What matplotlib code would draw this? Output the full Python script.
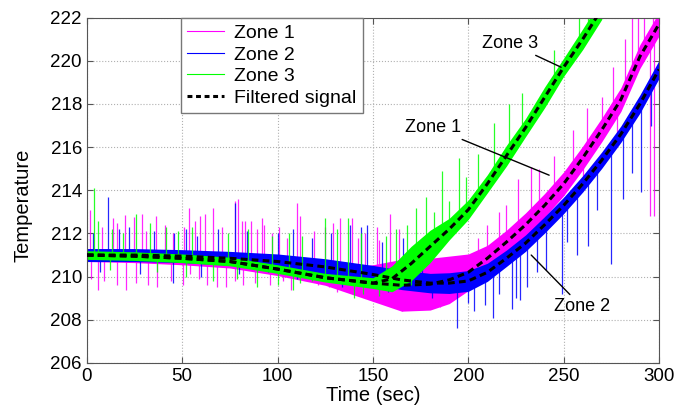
import matplotlib.pyplot as plt
import numpy as np

plt.rcParams['font.family'] = ['Liberation Sans', 'DejaVu Sans']

# filtered temperature per zone (time in sec, value)
t_12 = [0, 25, 50, 75, 100, 125, 150, 165, 180, 190, 200, 210, 220, 230, 240, 250, 260, 270, 280, 290, 300]
zone1_filt = [211.0, 210.95, 210.85, 210.7, 210.35, 209.95, 209.7, 209.6, 209.65, 209.85, 210.2,
              210.85, 211.6, 212.4, 213.3, 214.3, 215.5, 216.8, 218.2, 220.2, 221.7]
zone2_filt = [211.0, 211.0, 210.95, 210.85, 210.7, 210.45, 210.1, 209.85, 209.7, 209.7, 209.8,
              210.2, 210.85, 211.55, 212.4, 213.3, 214.3, 215.4, 216.6, 218.0, 219.6]
t_3 = [0, 25, 50, 75, 100, 125, 150, 160, 170, 180, 190, 200, 210, 220, 230, 240, 250, 260, 270]
zone3_filt = [211.0, 210.95, 210.85, 210.7, 210.35, 209.95, 209.7, 209.9, 210.6, 211.4, 212.2,
              213.1, 214.3, 215.6, 216.9, 218.3, 219.7, 221.0, 222.4]

# half width of the dense noise band around each filtered signal
zone1_band = [0.3, 0.3, 0.3, 0.3, 0.3, 0.35, 0.85, 1.2, 1.2, 1.1, 0.85,
              0.6, 0.55, 0.55, 0.55, 0.55, 0.55, 0.55, 0.55, 0.55, 0.55]
zone2_band = [0.3, 0.3, 0.3, 0.32, 0.35, 0.38, 0.42, 0.45, 0.45, 0.48, 0.48,
              0.42, 0.38, 0.38, 0.38, 0.38, 0.38, 0.38, 0.38, 0.42, 0.42]
zone3_band = [0.2, 0.2, 0.2, 0.2, 0.2, 0.2, 0.25, 0.6, 0.8, 0.75, 0.5,
              0.45, 0.42, 0.48, 0.42, 0.48, 0.42, 0.48, 0.48]

# sensor spikes (time, peak temperature)
zone1_spikes = [(1.6, 213.1), (8, 212.3), (13.6, 212.7), (16, 212.5), (20, 212.85), (24.5, 212.75),
                (28.7, 212.9), (31, 212.1), (36.5, 212.8), (41, 212.4), (45, 212.0), (50.8, 212.3),
                (53.4, 213.2), (56.8, 212.6), (59.5, 212.8), (62, 212.9), (66.4, 213.2), (71, 212.3),
                (77.5, 213.5), (79.5, 213.6), (81.6, 212.6), (83, 212.6), (86, 212.6), (89, 212.2),
                (92, 212.7), (93, 212.4), (97, 212.0), (101, 212.3), (105, 211.8), (110, 213.4),
                (112, 212.8), (119, 212.1), (125, 212.3), (129, 212.5), (133, 212.7), (139, 212.7),
                (142, 211.8), (146, 212.0), (152, 212.3), (153, 211.7), (159, 212.9), (163.5, 212.2),
                (180, 212.0), (205, 211.8), (210, 212.4), (216, 213.0), (220, 213.3), (226, 214.5),
                (233, 215.1), (237, 215.0), (245, 215.6), (255, 216.8), (262, 217.8), (270, 218.3),
                (276, 219.7), (282, 221.0), (286, 222.0), (289, 222.0), (292, 222.0), (297, 222.0),
                (2, 209.9), (5.8, 209.4), (9, 209.8), (16, 209.6), (20.5, 209.4), (26, 209.7),
                (32, 209.6), (37, 209.5), (44, 209.8), (50.6, 209.6), (54, 210.1), (59, 209.9),
                (63, 209.6), (68.5, 209.5), (73, 209.5), (77.5, 209.8), (82, 209.6), (88, 209.7),
                (96, 209.6), (103, 209.8), (107, 209.4), (115, 210.0), (121, 209.6), (127, 209.5),
                (131, 209.3), (137, 209.4), (141, 209.4), (147, 209.4), (150, 209.2), (156, 208.8),
                (165, 208.4), (171, 208.5), (185, 208.6), (190, 208.9), (240, 212.3), (260, 214.2),
                (278, 216.5), (295.5, 212.8), (297.5, 212.8)]
zone2_spikes = [(3, 212.0), (11, 213.7), (17, 212.2), (22, 212.3), (35, 212.1), (45.6, 212.0),
                (52, 212.2), (58, 211.9), (69, 212.2), (77.8, 213.4), (84, 212.1), (100, 212.0),
                (108, 212.2), (118, 211.8), (128, 212.0), (138, 212.4), (144, 212.3), (147, 212.4),
                (155, 211.6), (166, 211.8), (176, 211.6),
                (7, 210.2), (28, 210.1), (45, 209.7), (60, 210.0), (80, 210.1), (95, 210.2),
                (110, 209.9), (134, 209.5), (158, 209.3), (181, 209.0), (194, 207.6), (200, 208.8),
                (203, 208.4), (209, 208.7), (213, 208.1), (216, 209.2), (223, 208.5), (225, 209.0),
                (227, 208.9), (231, 209.5), (236, 210.2), (241, 210.3), (249, 209.2), (252, 211.6),
                (257, 211.0), (263, 211.4), (267.5, 213.1), (275, 210.6), (281, 213.6), (286, 214.8),
                (290.6, 213.9), (296, 217.0), (300, 218.8)]
zone3_spikes = [(4, 214.1), (6, 212.6), (13, 212.2), (19, 212.0), (26, 212.9), (33, 212.5),
                (41.5, 212.3), (48, 212.1), (55, 212.3), (74, 212.0), (84.6, 212.2), (97, 211.9),
                (106, 212.0), (113, 211.9), (125, 212.7), (131, 212.2), (136.7, 212.7), (144, 212.0),
                (157, 211.9), (162, 212.2), (168, 212.4), (172.8, 213.2), (178, 213.7), (182, 213.0),
                (186, 214.9), (190, 213.5), (195, 215.5), (199, 214.6), (205, 215.7), (213.6, 217.1),
                (221.5, 218.0), (228, 218.5), (245, 220.5), (258, 222.0), (263, 222.0),
                (12, 210.3), (37, 210.2), (52, 210.0), (66, 209.8), (79, 209.9), (89, 209.5),
                (100, 209.6), (108, 209.4), (112, 209.7), (118, 209.8), (140, 209.0), (145, 209.2),
                (153, 209.1), (170, 209.6)]

zones = [
    ('Zone 1', '#ff00ff', t_12, zone1_filt, zone1_band, zone1_spikes),
    ('Zone 2', '#0000ff', t_12, zone2_filt, zone2_band, zone2_spikes),
    ('Zone 3', '#00ff00', t_3, zone3_filt, zone3_band, zone3_spikes),
]

fig = plt.figure(figsize=(6.78, 4.09), dpi=100)
ax = fig.add_axes([0.128, 0.1125, 0.844, 0.8445])

for name, color, t, filt, band, spikes in zones:
    t = np.array(t)
    filt = np.array(filt)
    band = np.array(band)
    ax.fill_between(t, filt - band, filt + band, color=color, lw=0, zorder=2)
    st = np.array([s[0] for s in spikes])
    sv = np.array([s[1] for s in spikes])
    ax.vlines(st, np.interp(st, t, filt), sv, color=color, lw=0.9, alpha=0.85, zorder=2)
    ax.plot([], [], color=color, lw=0.8, label=name)

for name, color, t, filt, band, spikes in zones:
    ax.plot(t, filt, color='black', lw=2.2, dashes=(2.2, 1.4), zorder=3)
ax.plot([], [], color='black', lw=2.2, dashes=(1.6, 1.2), label='Filtered signal')

arrow = dict(arrowstyle='-', color='black', lw=1, shrinkA=1, shrinkB=0)
ax.annotate('Zone 3', xy=(248.7, 219.7), xytext=(222, 220.8), ha='center', va='center',
            fontsize=13, arrowprops=arrow, zorder=5)
ax.annotate('Zone 1', xy=(242.4, 214.7), xytext=(181.7, 216.9), ha='center', va='center',
            fontsize=13, arrowprops=arrow, zorder=5)
ax.annotate('Zone 2', xy=(233, 211.0), xytext=(259.6, 208.6), ha='center', va='center',
            fontsize=13, arrowprops=arrow, zorder=5)

ax.set_xlim(0, 300)
ax.set_ylim(206, 222)
ax.set_xticks(np.arange(0, 301, 50))
ax.set_yticks(np.arange(206, 223, 2))
ax.grid(True, linestyle=':', color='#b0b0b0', lw=0.8)
ax.tick_params(direction='in', top=True, right=True, labelsize=13.5, length=4, color='#555555')
for sp in ax.spines.values():
    sp.set_color('#555555')
ax.set_xlabel('Time (sec)', fontsize=14.5, labelpad=1)
ax.set_ylabel('Temperature', fontsize=14.5)
ax.yaxis.set_label_coords(-0.095, 0.457)

leg = ax.legend(loc='upper left', bbox_to_anchor=(0.164, 1.0), borderaxespad=0, fontsize=14,
                fancybox=False, framealpha=1, edgecolor='#777777', handlelength=1.9,
                handletextpad=0.5, labelspacing=0.2, borderpad=0.35)
leg.set_zorder(6)

fig.savefig('out.png', dpi=100)
